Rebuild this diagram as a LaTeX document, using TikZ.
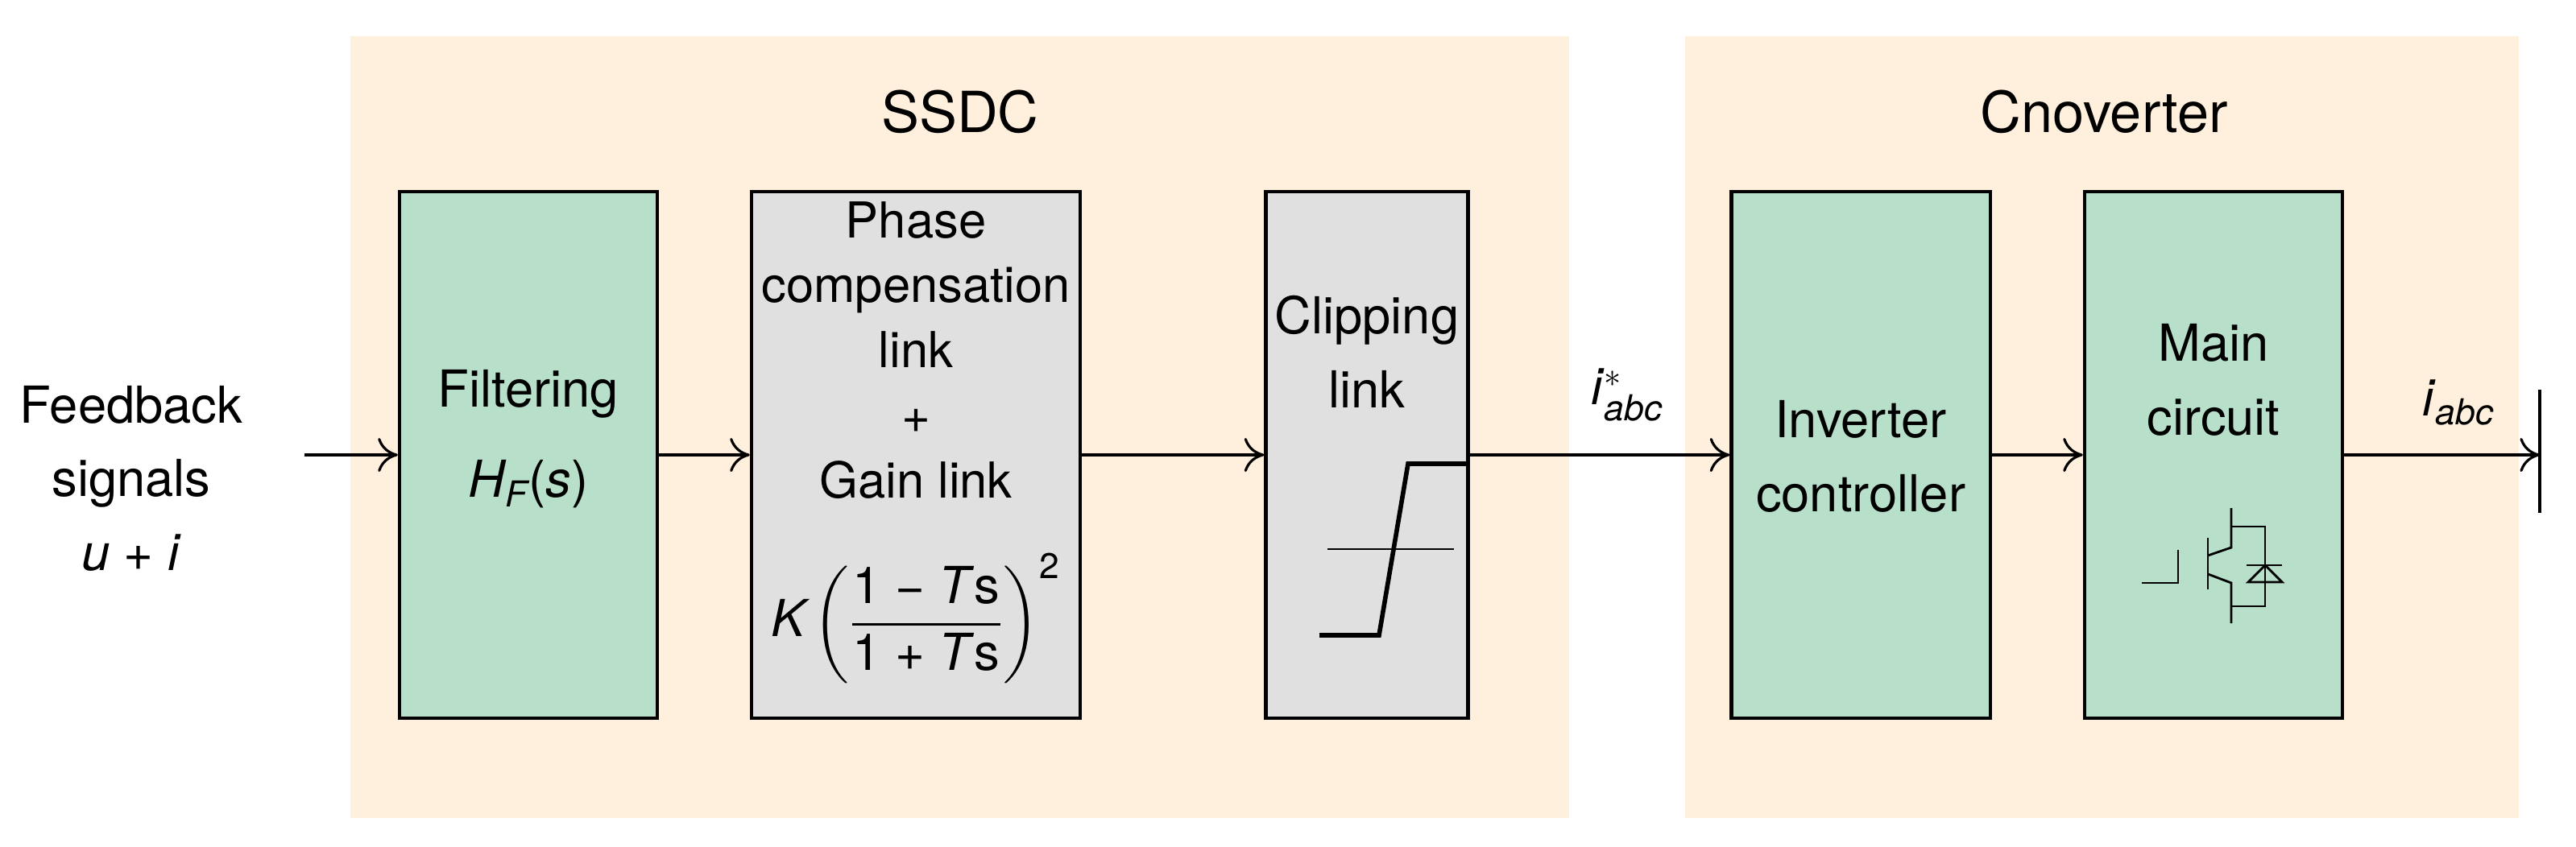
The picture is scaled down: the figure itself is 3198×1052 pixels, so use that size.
\documentclass[tikz,border=0pt]{standalone}
\usepackage{amsmath}
\usepackage{fontspec}
\setmainfont{TeX Gyre Heros}
\usetikzlibrary{arrows.meta}
\definecolor{bgc}{HTML}{FFF0DE}
\definecolor{grn}{HTML}{B7DFCA}
\definecolor{gry}{HTML}{E0E0E0}
\begin{document}
\begin{tikzpicture}[x=0.01cm,y=-0.01cm,
  font=\fontsize{18}{23}\selectfont,
  blk/.style={draw,line width=1.2pt,minimum height=6.53cm,inner sep=0pt},
  gblk/.style={blk,fill=grn},
  cblk/.style={blk,fill=gry},
  txt/.style={align=center,inner sep=0pt},
  sig/.style={line width=0.9pt,-{To[length=7pt,width=12pt]}},
  sym/.style={line width=0.8pt}]
\useasboundingbox (0,0) rectangle (3198,1052);
% backgrounds
\fill[bgc] (435,45) rectangle (1948,1016);
\fill[bgc] (2092,45) rectangle (3127,1016);
\node[txt,font=\fontsize{20}{23}\selectfont] (t1) at (1192,139) {SSDC};
\node[txt,font=\fontsize{20}{23}\selectfont] (t2) at (2612,139) {Cnoverter};
% blocks
\node[gblk,minimum width=3.20cm] (flt) at (656,565) {};
\node[cblk,minimum width=4.08cm] (pha) at (1137,565) {};
\node[cblk,minimum width=2.51cm] (clp) at (1697,565) {};
\node[gblk,minimum width=3.21cm] (inv) at (2310,565) {};
\node[gblk,minimum width=3.20cm] (mc) at (2748,565) {};
% texts
\node[txt,font=\fontsize{18}{26}\selectfont] (ft) at (656,545) {Filtering\\[6pt]\textit{H\textsubscript{F}}(\textit{s})};
\node[txt,font=\fontsize{17.5}{23}\selectfont] (pt) at (1137,435) {Phase\\compensation\\link\\+\\Gain link};
\node[txt] (pf) at (1137,768) {$\textit{K}\left(\dfrac{\text{1 − \textit{T}s}}{\text{1 + \textit{T}s}}\right)^{\text{2}}$};
\node[txt,font=\fontsize{18}{26}\selectfont] (ct) at (1697,437) {Clipping\\link};
\node[txt,font=\fontsize{18}{26}\selectfont] (it) at (2310,567) {Inverter\\controller};
\node[txt,font=\fontsize{18}{26}\selectfont] (mt) at (2748,472) {Main\\circuit};
\node[txt,font=\fontsize{18}{26}\selectfont] (fb) at (163,594) {Feedback\\signals\\\textit{u} + \textit{i}};
\node[txt] (ir) at (2020,490) {\textit{i}$^{*}_{\textit{abc}}$};
\node[txt] (io) at (3052,500) {\textit{i}$_{\textit{abc}}$};
% connectors
\coordinate (in) at (378,565);
\coordinate (out) at (3153,565);
\draw[sig] (in) -- (flt);
\draw[sig] (flt) -- (pha);
\draw[sig] (pha) -- (clp);
\draw[sig] (clp) -- (inv);
\draw[sig] (inv) -- (mc);
\draw[sig] (mc) -- (out);
\draw[line width=0.9pt] (3153,484) -- (3153,637);
% clipping symbol
\draw[sym,line width=0.6pt] (1648,682) -- (1805,682);
\draw[sym,line width=1.6pt] (1638,789) -- (1712,789) -- (1748,576) -- (1822,576);
% IGBT symbol
\draw[sym] (2659,724) -- (2704,724) -- (2704,683);
\draw[sym] (2741,668) -- (2741,732);
\draw[sym] (2770,631) -- (2770,680) -- (2741,690);
\draw[sym] (2741,713) -- (2770,724) -- (2770,774);
\draw[sym] (2770,654) -- (2812,654) -- (2812,753) -- (2770,753);
\draw[sym] (2789,702) -- (2833,702);
\draw[sym] (2812,702) -- (2791,723) -- (2833,723) -- cycle;
\end{tikzpicture}
\end{document}
